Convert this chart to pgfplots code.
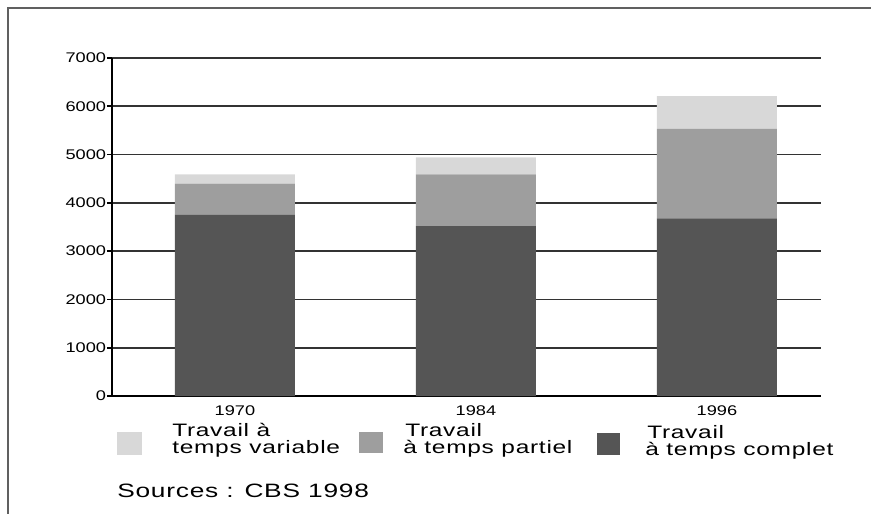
\documentclass[border=0pt]{standalone}
\usepackage{pgfplots}
\pgfplotsset{compat=1.18}
\usepackage{fontspec}
\setmainfont{Liberation Sans}
\newfontfamily\tickfont[FakeStretch=1.3]{Liberation Sans}
\newfontfamily\legfont[FakeStretch=1.36,LetterSpace=4]{Liberation Sans}
\newcommand\legtxt{\legfont\fontsize{13.5}{16}\selectfont}
\definecolor{cvar}{HTML}{D8D8D8}
\definecolor{cpart}{HTML}{9E9E9E}
\definecolor{ccomp}{HTML}{555555}
\definecolor{cgrid}{HTML}{333333}
\definecolor{cframe}{HTML}{606060}
\begin{document}
\begin{tikzpicture}
\begin{scope}[x=0.75pt,y=-0.75pt]
\path[use as bounding box] (0,0) rectangle (871,514);
\draw[cframe, line width=0.8pt] (8,514) -- (8,8) -- (871,8);
\end{scope}
\begin{axis}[
  at={(84pt,-297pt)}, anchor=south west,
  scale only axis, width=531.75pt, height=253.5pt,
  xmin=-0.51, xmax=2.432, ymin=0, ymax=7000,
  ytick={0,1000,...,7000},
  xtick={0,1,2}, xticklabels={1970,1984,1996},
  scaled y ticks=false,
  /pgf/number format/1000 sep={},
  /pgf/number format/assume math mode=true,
  axis x line*=bottom, axis y line*=left,
  axis line style={black, line width=1.5pt},
  ymajorgrids, grid style={cgrid, line width=1.35pt},
  tick align=outside, major tick length=3.75pt,
  ytick style={black, line width=1.2pt},
  xtick style={draw=none},
  ticklabel style={font=\tickfont\fontsize{10.5}{11}\selectfont},
  yticklabel style={inner sep=0.5pt},
  xticklabel style={inner sep=0pt, yshift=-3.5pt},
  ybar stacked, bar width=90pt,
]
\addplot[fill=ccomp, draw=none] coordinates {(0,3750) (1,3520) (2,3680)};
\addplot[fill=cpart, draw=none] coordinates {(0,650) (1,1070) (2,1850)};
\addplot[fill=cvar, draw=none] coordinates {(0,190) (1,350) (2,680)};
\end{axis}
\begin{scope}[x=0.75pt,y=-0.75pt]
\fill[cvar] (117,432) rectangle (142,455);
\fill[cpart] (359,432) rectangle (383,453);
\fill[ccomp] (597,433) rectangle (620,455);
\node[anchor=base west, inner sep=0, font=\legtxt] at (172,436) {Travail à};
\node[anchor=base west, inner sep=0, font=\legtxt] at (172,453) {temps variable};
\node[anchor=base west, inner sep=0, font=\legtxt] at (405,436) {Travail};
\node[anchor=base west, inner sep=0, font=\legtxt] at (403,453) {à temps partiel};
\node[anchor=base west, inner sep=0, font=\legtxt] at (647,438) {Travail};
\node[anchor=base west, inner sep=0, font=\legtxt] at (645,455) {à temps complet};
\node[anchor=base west, inner sep=0, font=\legfont\fontsize{14.5}{16}\selectfont] at (117,497) {Sources : CBS 1998};
\end{scope}
\end{tikzpicture}
\end{document}
